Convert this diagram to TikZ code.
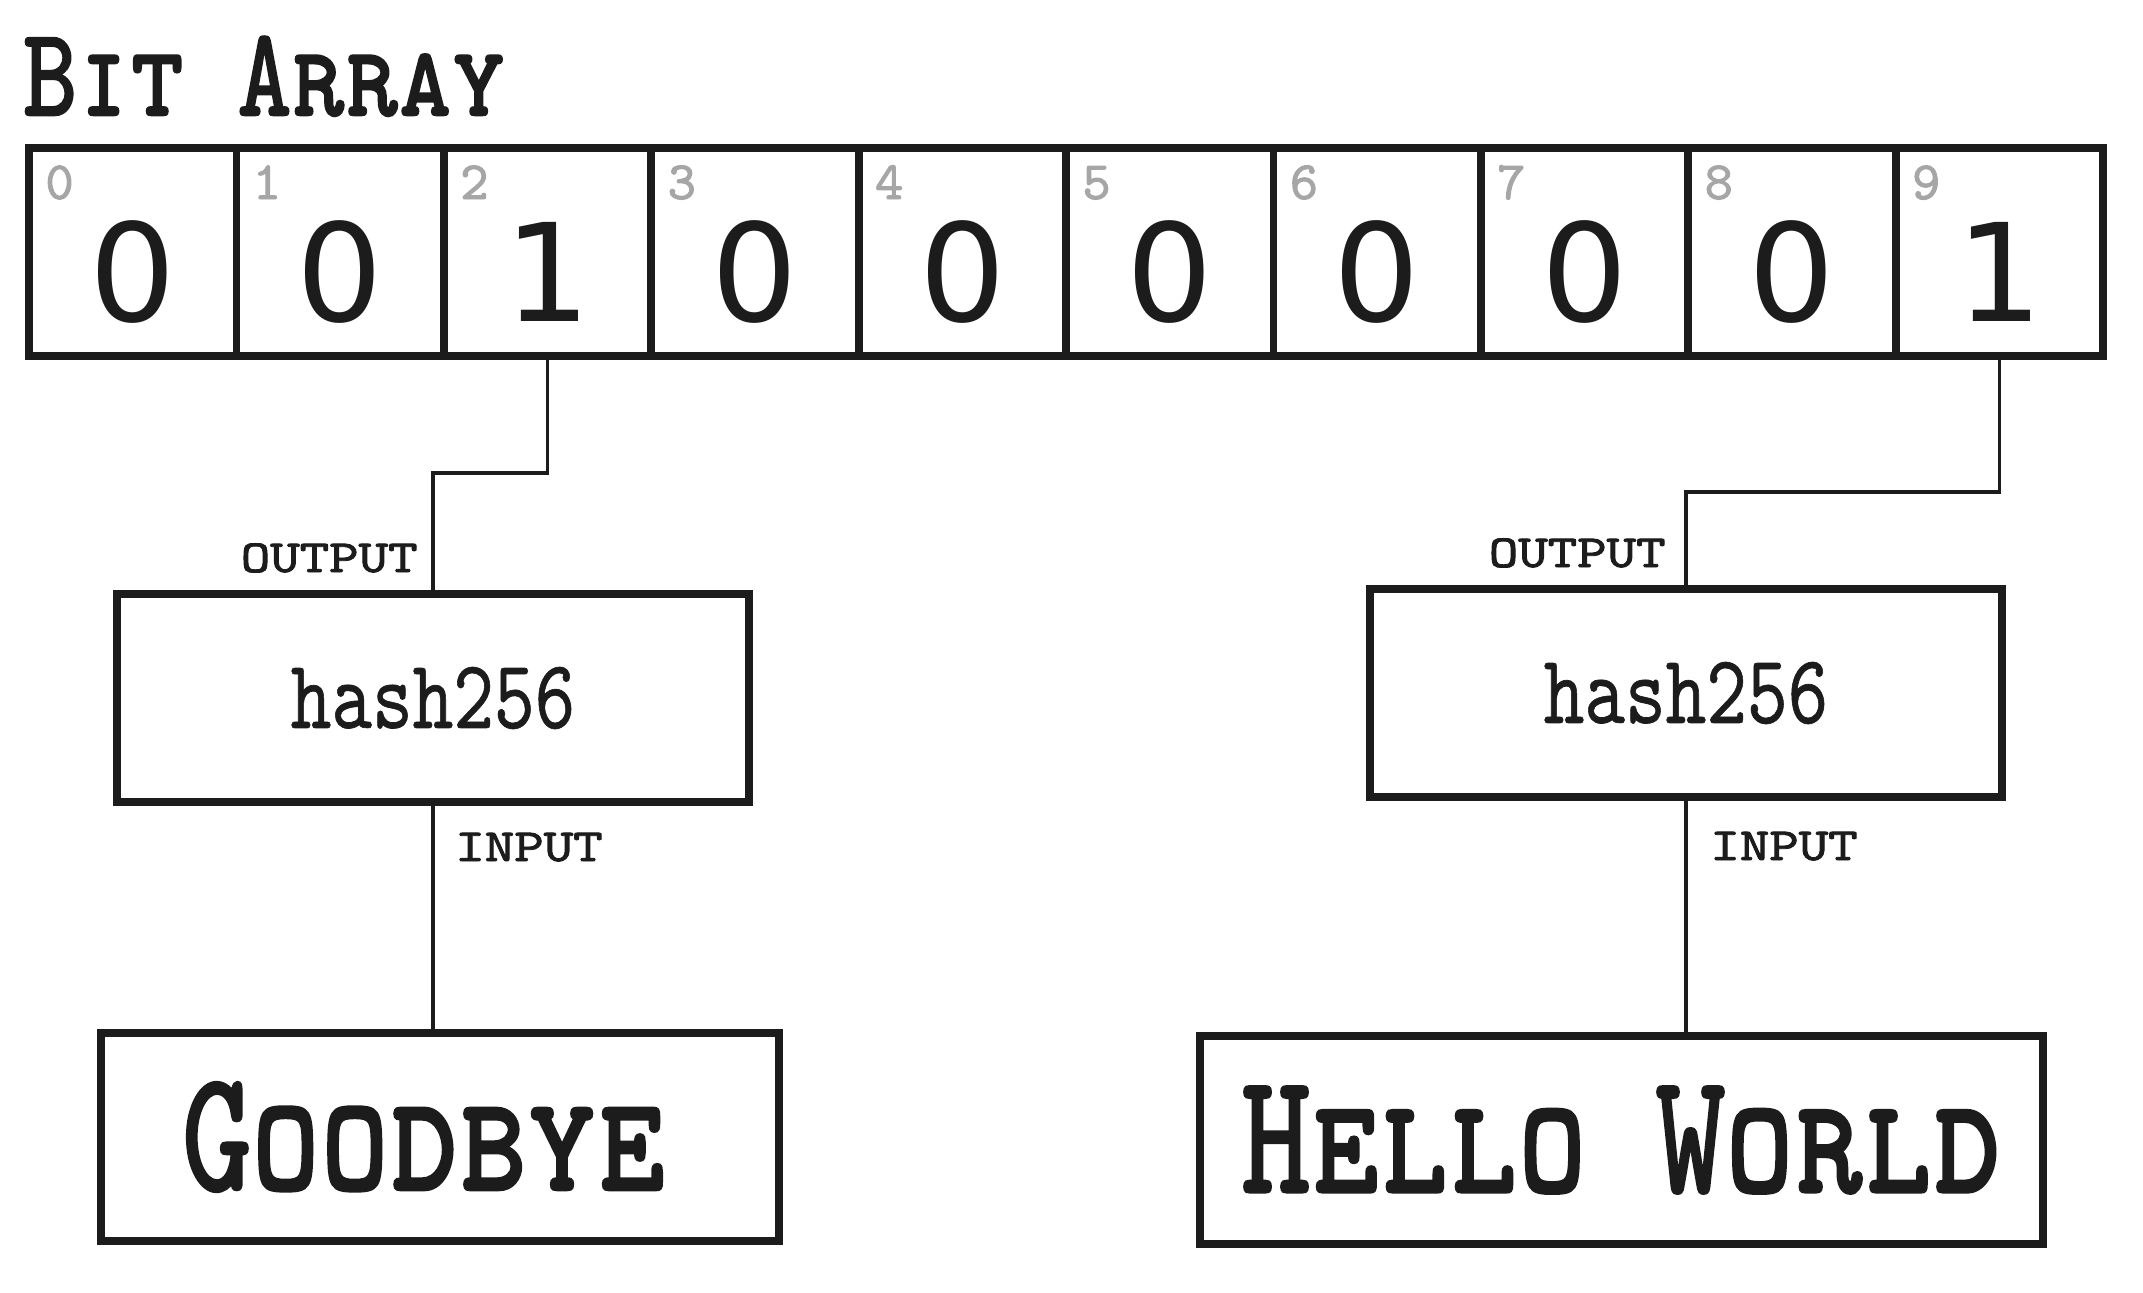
\documentclass[tikz,border=0pt]{standalone}
\usepackage{fontspec}
\usepackage{graphicx}
\newfontfamily\tcaps{lmmonocaps10-regular.otf}[FakeBold=2]
\newfontfamily\tlab{lmmonocaps10-regular.otf}[FakeBold=1.8]
\newfontfamily\tmono{lmmono10-regular.otf}[FakeBold=0.7]
\newfontfamily\dsans{DejaVu Sans}
\definecolor{ink}{HTML}{1C1C1C}
\definecolor{idxgray}{HTML}{A6A6A6}
\tikzset{
  cell/.style={draw=ink, line width=3.9pt, minimum width=103.7pt, minimum height=104pt, inner sep=0pt},
  bigdigit/.style={inner sep=0pt, text=ink, font=\dsans\fontsize{68}{68}\selectfont},
  idxnum/.style={inner sep=0pt, anchor=base west, text=idxgray, font=\tlab\fontsize{27}{27}\selectfont},
  hashbox/.style={draw=ink, line width=3.7pt, minimum width=316pt, minimum height=104pt, inner sep=0pt, text=ink},
  wordbox/.style={draw=ink, line width=3.7pt, minimum height=104pt, inner sep=0pt, text=ink},
  lab/.style={inner sep=0pt, text=ink, font=\tlab\fontsize{23}{23}\selectfont},
  wire/.style={draw=ink, line width=1.8pt},
}
\newcommand{\hashtxt}{\tmono\fontsize{49}{49}\selectfont\scalebox{0.79}[1]{hash256}}
\newcommand{\iolab}[1]{\scalebox{1.22}[1]{#1}}
\begin{document}
\begin{tikzpicture}[x=0.5pt,y=-0.5pt]
\useasboundingbox (0,0) rectangle (2143,1292);
% title
\node[inner sep=0pt, anchor=base west, text=ink, font=\tcaps\fontsize{63}{63}\selectfont] (title) at (23,115) {\scalebox{0.81}[1]{Bit Array}};
% bit array
\foreach \i/\v in {0/0,1/0,2/1,3/0,4/0,5/0,6/0,7/0,8/0,9/1} {
  \node[cell] (c\i) at ({29+207.4*(\i+0.5)},252) {};
  \node[bigdigit] (d\i) at ({29+207.4*(\i+0.5)},272) {\v};
  \node[idxnum] (n\i) at ({29+207.4*\i+16},199) {\i};
}
% hash boxes
\node[hashbox] (hl) at (433,698) {\hashtxt};
\node[hashbox] (hr) at (1686,693) {\hashtxt};
% input boxes
\node[wordbox, minimum width=339pt] (gb) at (440,1137) {\tcaps\fontsize{86}{86}\selectfont\scalebox{0.765}[1]{Goodbye}\kern16pt};
\node[wordbox, minimum width=421.5pt] (hw) at (1621.5,1140) {\tcaps\fontsize{86}{86}\selectfont\scalebox{0.765}[1]{Hello World}};
% connectors
\coordinate (yl) at (0,473);
\coordinate (yr) at (0,492);
\coordinate (kl) at (hl.north |- yl);
\coordinate (kr) at (hr.north |- yr);
\draw[wire] (c2.south) |- (kl) -- (hl.north);
\draw[wire] (c9.south) |- (kr) -- (hr.north);
\draw[wire] (hl.south) -- (hl.south |- gb.north);
\draw[wire] (hr.south) -- (hr.south |- hw.north);
% labels
\node[lab, anchor=base east] (ol) at (418,572) {\iolab{OUTPUT}};
\node[lab, anchor=base east] (or) at (1666,567) {\iolab{OUTPUT}};
\node[lab, anchor=base west] (il) at (455,861) {\iolab{INPUT}};
\node[lab, anchor=base west] (ir) at (1710,860) {\iolab{INPUT}};
\end{tikzpicture}
\end{document}
